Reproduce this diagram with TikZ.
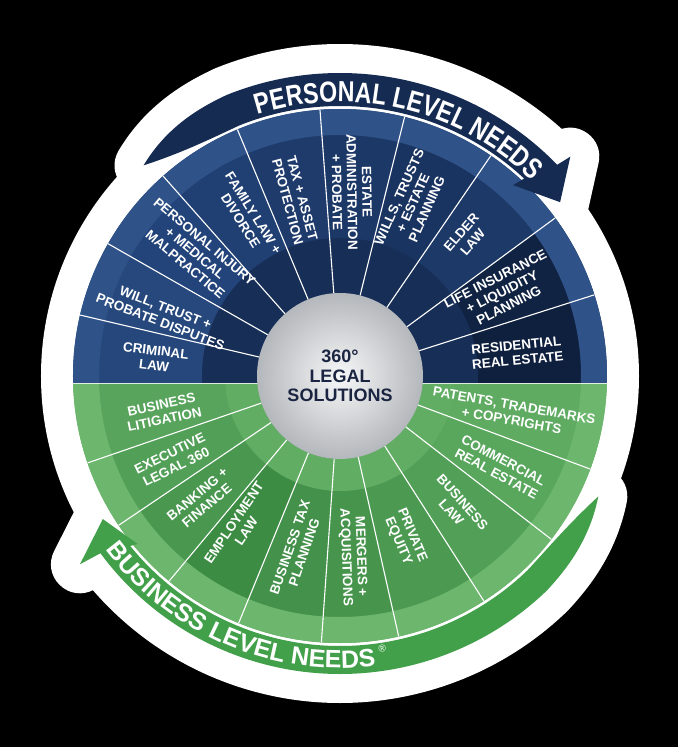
\documentclass[tikz,border=0pt]{standalone}
\usepackage{fontspec}
\setmainfont{Liberation Sans}
\newfontfamily\bandfont[FakeStretch=0.8]{Liberation Sans}
\usetikzlibrary{decorations.text}
\definecolor{bandblue}{HTML}{152B51}
\definecolor{bandgreen}{HTML}{41A049}
\definecolor{centertext}{HTML}{1B2541}
\definecolor{silverin}{HTML}{F6F7F8}
\definecolor{silverout}{HTML}{B4B7BB}
\definecolor{rimblue}{HTML}{2F5288}
\definecolor{innerblue}{HTML}{172E57}
\definecolor{rimgreen}{HTML}{6CB66D}
\definecolor{innergreen}{HTML}{62AD64}
\definecolor{bA}{HTML}{25477B}
\definecolor{bB}{HTML}{26487D}
\definecolor{bC}{HTML}{23447A}
\definecolor{bD}{HTML}{203F72}
\definecolor{bE}{HTML}{1E3B6C}
\definecolor{bF}{HTML}{1C3867}
\definecolor{bG}{HTML}{1A3461}
\definecolor{bH}{HTML}{1D3968}
\definecolor{bI}{HTML}{112342}
\definecolor{bJ}{HTML}{0F1F3E}
\definecolor{gA}{HTML}{58A45C}
\definecolor{gB}{HTML}{52A057}
\definecolor{gC}{HTML}{4A9850}
\definecolor{gD}{HTML}{3D8C44}
\definecolor{gE}{HTML}{43914A}
\definecolor{gF}{HTML}{47954D}
\definecolor{gG}{HTML}{4C9A52}
\definecolor{gH}{HTML}{52A057}
\definecolor{gI}{HTML}{59A75D}
\definecolor{gJ}{HTML}{5FAB62}
\begin{document}
\begin{tikzpicture}[x=1pt,y=1pt,
  seglabel/.style={font=\bfseries\fontsize{13.5}{15}\selectfont, text=white, align=center, inner sep=0pt},
  divider/.style={draw=white, line width=1.1pt},
  blobline/.style={draw=white, fill=white, line width=58pt, line join=round},
]
\useasboundingbox (-340,-371) rectangle (338,376);
\fill[black] (-340,-371) rectangle (338,376);
% white blob
\fill[white] (0,0) circle[radius=299];
\path[blobline] (133:288) .. controls (125:303) and (118:303) .. (112:303)
  arc[start angle=112, end angle=44.2, radius=303] -- (43.6:318) -- (38.3:280.5)
  -- (47.8:257.7) -- (47:270) arc[start angle=47, end angle=112, radius=270]
  .. controls (118:270) and (125:273) .. (133:288) -- cycle;
\path[blobline] (335:285) .. controls (327:298) and (320:298) .. (314:298)
  arc[start angle=314, end angle=216.5, radius=298] -- (215.9:321) -- (211.1:277)
  -- (219.7:263) -- (219:270) arc[start angle=219, end angle=314, radius=270]
  .. controls (320:270) and (327:272) .. (335:285) -- cycle;
% blue half
\begin{scope}
\clip (-270,-7) rectangle (270,270);
\foreach \a/\b/\c in {185/166.8/bA, 166.8/150.3/bB, 150.3/131.5/bC, 131.5/112.6/bD, 112.6/94.3/bE, 94.3/76/bF, 76/55.6/bG, 55.6/36.3/bH, 36.3/17.7/bI, 17.7/-5/bJ}
  \fill[\c] (0,0) -- (\a:267) arc[start angle=\a, end angle=\b, radius=267] -- cycle;
\fill[rimblue, even odd rule] (0,0) circle[radius=267] (0,0) circle[radius=241];
\fill[innerblue, even odd rule] (0,0) circle[radius=138] (0,0) circle[radius=83];
\end{scope}
% green half
\begin{scope}
\clip (-270,-7) rectangle (270,-270);
\foreach \a/\b/\c in {175/199/gA, 199/214/gB, 214/230.2/gC, 230.2/247.7/gD, 247.7/266/gE, 266/282.7/gF, 282.7/302.6/gG, 302.6/322.3/gH, 322.3/339.6/gI, 339.6/365/gJ}
  \fill[\c] (0,0) -- (\a:267) arc[start angle=\a, end angle=\b, radius=267] -- cycle;
\fill[rimgreen, even odd rule] (0,0) circle[radius=267] (0,0) circle[radius=241];
\fill[innergreen, even odd rule] (0,0) circle[radius=115] (0,0) circle[radius=83];
\end{scope}
% dividers
\foreach \a in {166.8,150.3,131.5,112.6,94.3,76,55.6,36.3,17.7,199,214,230.2,247.7,266,282.7,302.6,322.3,339.6}
  \draw[divider] (\a:83) -- (\a:267);
\draw[draw=white, opacity=0.8, line width=1pt] (-266.9,-7) -- (266.9,-7);
% centre
\shade[inner color=silverin, outer color=silverout] (0,0) circle[radius=83];
\node[font=\bfseries\fontsize{18}{19.5}\selectfont, text=centertext, align=center, inner sep=0pt] (hub) at (0,0) {360°\\LEGAL\\SOLUTIONS};
% blue labels
\node[seglabel, rotate=-7] (crim) at (-185,18) {CRIMINAL\\LAW};
\node[seglabel, rotate=-21] (wtpd) at (-177,61) {WILL, TRUST +\\PROBATE DISPUTES};
\node[seglabel, rotate=-40] (pimm) at (-145,123) {PERSONAL INJURY\\+ MEDICAL\\MALPRACTICE};
\node[seglabel, rotate=-58] (fam) at (-93,159) {FAMILY LAW +\\DIVORCE};
\node[seglabel, rotate=-75] (tax) at (-45,176) {TAX + ASSET\\PROTECTION};
\node[seglabel, rotate=-89] (est) at (12,184) {ESTATE\\ADMINISTRATION\\+ PROBATE};
\node[seglabel, rotate=66] (wills) at (73,173) {WILLS, TRUSTS\\+ ESTATE\\PLANNING};
\node[seglabel, rotate=49] (elder) at (127,139) {ELDER\\LAW};
\node[seglabel, rotate=27] (life) at (162,84) {LIFE INSURANCE\\+ LIQUIDITY\\PLANNING};
\node[seglabel, rotate=6] (resi) at (177,23) {RESIDENTIAL\\REAL ESTATE};
% green labels
\node[seglabel, rotate=12] (blit) at (-177,-36) {BUSINESS\\LITIGATION};
\node[seglabel, rotate=26] (exec) at (-167,-84) {EXECUTIVE\\LEGAL 360};
\node[seglabel, rotate=40] (bank) at (-138,-124) {BANKING +\\FINANCE};
\node[seglabel, rotate=56] (empl) at (-100,-151) {EMPLOYMENT\\LAW};
\node[seglabel, rotate=71] (btax) at (-43,-174) {BUSINESS TAX\\PLANNING};
\node[seglabel, rotate=-88] (merg) at (13,-181) {MERGERS +\\ACQUISITIONS};
\node[seglabel, rotate=-67] (pe) at (65,-162) {PRIVATE\\EQUITY};
\node[seglabel, rotate=-48] (blaw) at (117,-131) {BUSINESS\\LAW};
\node[seglabel, rotate=-28] (comm) at (160,-91) {COMMERCIAL\\REAL ESTATE};
\node[seglabel, rotate=-10] (pat) at (173,-37) {PATENTS, TRADEMARKS\\+ COPYRIGHTS};
% bands
\fill[bandblue] (133:288) .. controls (125:303) and (118:303) .. (112:303)
  arc[start angle=112, end angle=44.2, radius=303] -- (43.6:318) -- (38.3:280.5)
  -- (47.8:257.7) -- (47:270) arc[start angle=47, end angle=112, radius=270]
  .. controls (118:270) and (125:273) .. (133:288) -- cycle;
\fill[bandgreen] (335:285) .. controls (327:298) and (320:298) .. (314:298)
  arc[start angle=314, end angle=216.5, radius=298] -- (215.9:321) -- (211.1:277)
  -- (219.7:263) -- (219:270) arc[start angle=219, end angle=314, radius=270]
  .. controls (320:270) and (327:272) .. (335:285) -- cycle;
\path[decorate, decoration={text along path,
  text={|\bandfont\bfseries\fontsize{29}{29}\selectfont\color{white}|PERSONAL LEVEL NEEDS},
  text align=center}] (107.5:274) arc[start angle=107.5, end angle=45.5, radius=274];
\path[decorate, decoration={text along path,
  text={|\bfseries\fontsize{25}{25}\selectfont\color{white}|BUSINESS LEVEL NEEDS},
  text align=center}] (216.6:292) arc[start angle=216.6, end angle=277, radius=292];
\node[text=white, font=\fontsize{10}{10}\selectfont, rotate=9, inner sep=0pt] (reg) at (278.8:276) {®};
\end{tikzpicture}
\end{document}
